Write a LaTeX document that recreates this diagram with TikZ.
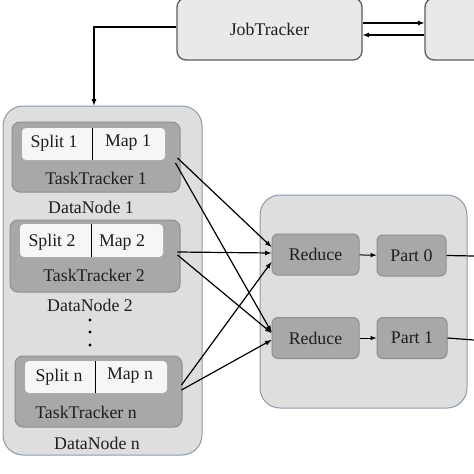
\documentclass[tikz,border=0pt]{standalone}
\usepackage{fontspec}
\setmainfont{Liberation Serif}
\usepackage{xcolor}

\definecolor{jtfill}{HTML}{E9E9E9}
\definecolor{jtline}{HTML}{5C5C5C}
\definecolor{boxfill}{HTML}{DEDEDF}
\definecolor{boxline}{HTML}{8C9BAB}
\definecolor{ttfill}{HTML}{A8A8A8}
\definecolor{ttline}{HTML}{8E8E8E}
\definecolor{cellfill}{HTML}{F6F6F6}
\definecolor{txt}{HTML}{1E1E1E}

\begin{document}
\begin{tikzpicture}[x=1pt, y=-1pt, >=latex,
  font=\fontsize{17.8}{20}\selectfont, text=txt,
  jobbox/.style={draw=jtline, line width=1.3pt, fill=jtfill, rounded corners=9pt, inner sep=0pt},
  bigbox/.style={draw=boxline, line width=1pt, fill=boxfill, rounded corners=20pt, inner sep=0pt},
  ttbox/.style={draw=ttline, line width=1pt, fill=ttfill, rounded corners=8pt, inner sep=0pt},
  redbox/.style={draw=ttline, line width=1pt, fill=ttfill, rounded corners=6pt, inner sep=0pt, minimum height=41pt},
  link/.style={->, line width=1.2pt}]

\clip (0,0) rectangle (474,474);

%jobtracker
\node [jobbox, minimum width=185pt, minimum height=62pt] (jt) at (269.5,29) {JobTracker};
\node [jobbox, minimum width=185pt, minimum height=62pt] (other) at (517.5,29) {};
\draw [link] ([yshift=6pt]jt.east) -- ([yshift=6pt]other.west);
\draw [link] ([yshift=-6pt]other.west) -- ([yshift=-6pt]jt.east);

%datanodes
\node [bigbox, minimum width=199pt, minimum height=349pt] (dn) at (102.5,280.5) {};
\draw [link] ([yshift=2pt]jt.west) -| ([xshift=-8.5pt]dn.north);

\node [ttbox, minimum width=168pt, minimum height=70pt] (tt1) at (96,157) {};
\node [ttbox, minimum width=170pt, minimum height=72pt] (tt2) at (95,256) {};
\node [ttbox, minimum width=167pt, minimum height=71pt] (ttn) at (98.5,391.5) {};

\fill [cellfill, rounded corners=4pt] (22,128) rectangle (165,160);
\fill [cellfill, rounded corners=4pt] (20,224) rectangle (163,257);
\fill [cellfill, rounded corners=4pt] (25,361) rectangle (167,393);
\draw [line width=1pt] (92,128) -- (92,160);
\draw [line width=1pt] (91,224) -- (91,257);
\draw [line width=1pt] (95,361) -- (95,393);

\node (split1) at (54,143) {Split 1};
\node (map1) at (128,143) {Map 1};
\node (split2) at (52,242) {Split 2};
\node (map2) at (122,242) {Map 2};
\node (splitn) at (59,377) {Split n};
\node (mapn) at (130,376) {Map n};

\node (tt1lab) at (96,178) {TaskTracker 1};
\node (tt2lab) at (94,275) {TaskTracker 2};
\node (ttnlab) at (86,412) {TaskTracker n};
\node (dn1lab) at (91,207) {DataNode 1};
\node (dn2lab) at (90,305) {DataNode 2};
\node (dnnlab) at (97,443) {DataNode n};

\foreach \y in {320,332,345}
   {\fill (90,\y) circle (1.7pt);
   }

%reduce side
\node [bigbox, minimum width=207pt, minimum height=213pt] (rd) at (363.5,301.5) {};
\node [redbox, minimum width=87pt] (r1) at (315.5,254.5) {Reduce};
\node [redbox, minimum width=69pt] (p0) at (411.5,255.5) {Part 0};
\node [redbox, minimum width=87pt] (r2) at (315.5,338) {Reduce};
\node [redbox, minimum width=70pt] (p1) at (412,338) {Part 1};
\draw [->, line width=1pt] (r1) -- (p0);
\draw [->, line width=1pt] (r2) -- (p1);
\coordinate (out0) at (474,256);
\coordinate (out1) at (474,340);
\draw [line width=1.2pt] (p0.east) -- (out0);
\draw [line width=1.2pt] (p1.east) -- (out1);

%map outputs
\draw [link] ([xshift=-3pt,yshift=-1pt]tt1.east) -- ([yshift=7.5pt]r1.west);
\draw [link] ([xshift=-5pt,yshift=-6pt]tt1.east) -- ([yshift=6pt]r2.west);
\draw [link] ([xshift=-3pt,yshift=4pt]tt2.east) -- ([yshift=1.5pt]r1.west);
\draw [link] ([xshift=-3pt,yshift=1pt]tt2.east) -- ([yshift=5pt]r2.west);
\draw [link] ([xshift=-1pt,yshift=6.5pt]ttn.east) -- ([yshift=-7.5pt]r1.west);
\draw [link] ([xshift=-1pt,yshift=1.5pt]ttn.east) -- ([yshift=-2pt]r2.west);

\end{tikzpicture}
\end{document}
